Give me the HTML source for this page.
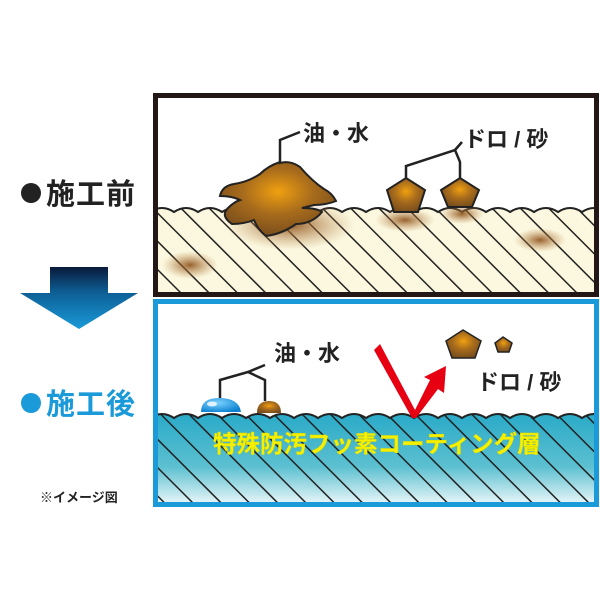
<!DOCTYPE html>
<html><head><meta charset="utf-8"><style>
html,body{margin:0;padding:0;background:#fff;}
svg{display:block;}
text{font-family:"Liberation Sans","Noto Sans CJK JP",sans-serif;font-weight:bold;}
</style></head><body>
<svg width="600" height="600" viewBox="0 0 600 600" xmlns="http://www.w3.org/2000/svg">
<defs>
<pattern id="h1" patternUnits="userSpaceOnUse" width="20" height="20" patternTransform="rotate(-45)">
<rect width="20" height="20" fill="#fbf8df"/><line x1="0" y1="0" x2="0" y2="20" stroke="#222" stroke-width="3"/>
</pattern>
<linearGradient id="blue" x1="0" y1="0" x2="0" y2="1">
<stop offset="0" stop-color="#2aaac8"/><stop offset="0.55" stop-color="#5cc0d0"/><stop offset="1" stop-color="#ffffff"/>
</linearGradient>
<pattern id="h2" patternUnits="userSpaceOnUse" width="20" height="20" patternTransform="rotate(-45)">
<line x1="0" y1="0" x2="0" y2="20" stroke="#222" stroke-width="3"/>
</pattern>
<linearGradient id="arr" x1="0" y1="0" x2="0" y2="1">
<stop offset="0" stop-color="#0a1a3a"/><stop offset="0.4" stop-color="#0d5e94"/><stop offset="1" stop-color="#1a9ad8"/>
</linearGradient>
<radialGradient id="blob" cx="0.5" cy="0.4" r="0.6">
<stop offset="0" stop-color="#f0a010"/><stop offset="0.5" stop-color="#a86c1c"/><stop offset="1" stop-color="#7a4e1c"/>
</radialGradient>
<radialGradient id="stain">
<stop offset="0" stop-color="#8a5018" stop-opacity="0.9"/><stop offset="1" stop-color="#c08a50" stop-opacity="0"/>
</radialGradient>
<radialGradient id="drop" cx="0.4" cy="0.35" r="0.7">
<stop offset="0" stop-color="#7fd4ff"/><stop offset="1" stop-color="#0a80d0"/>
</radialGradient>
<clipPath id="c1"><rect x="158" y="98" width="436" height="194"/></clipPath>
<clipPath id="c2"><rect x="158" y="304" width="436" height="198"/></clipPath>
</defs>

<!-- left labels -->
<circle cx="31" cy="193" r="10" fill="#222"/>
<text x="46" y="204" font-size="29" fill="#222" letter-spacing="1">施工前</text>
<polygon points="50,267 108,267 108,293 138,293 79,329 20,293 50,293" fill="url(#arr)"/>
<circle cx="31" cy="403" r="10" fill="#1a9ad8"/>
<text x="46" y="414" font-size="29" fill="#1a9ad8" letter-spacing="1">施工後</text>
<text x="40" y="502" font-size="13" fill="#222" font-weight="normal">※イメージ図</text>

<!-- top box -->
<rect x="155.5" y="95.5" width="441" height="199" fill="#fff" stroke="#231815" stroke-width="5"/>
<g clip-path="url(#c1)">
<path d="M150,212 q12,-8 24,0 q12,-8 24,0 q12,-8 24,0 q12,-8 24,0 q12,-8 24,0 q12,-8 24,0 q12,-8 24,0 q12,-8 24,0 q12,-8 24,0 q12,-8 24,0 q12,-8 24,0 q12,-8 24,0 q12,-8 24,0 q12,-8 24,0 q12,-8 24,0 q12,-8 24,0 q12,-8 24,0 q12,-8 24,0 q12,-8 24,0 L606,300 L150,300 Z" fill="url(#h1)" stroke="#222" stroke-width="2"/>
<ellipse cx="290" cy="225" rx="65" ry="25" fill="url(#stain)"/>
<ellipse cx="405" cy="220" rx="30" ry="12" fill="url(#stain)"/>
<ellipse cx="462" cy="214" rx="22" ry="10" fill="url(#stain)"/>
<ellipse cx="540" cy="240" rx="26" ry="12" fill="url(#stain)"/>
<ellipse cx="190" cy="265" rx="28" ry="14" fill="url(#stain)"/>
</g>
<path d="M280,163 q10,-3 20,4 q12,14 24,22 q8,4 12,12 q-10,4 -22,4 l-12,3 q15,0 20,4 q-10,12 -26,12 q-14,10 -30,12 q-8,-6 -12,-16 q-10,4 -22,4 q-12,-8 -4,-16 q6,-6 12,-8 q-8,-4 -20,-4 q2,-10 14,-12 q14,-2 26,-10 q8,-8 20,-12 Z" fill="url(#blob)" stroke="#222" stroke-width="2"/>
<polyline points="280,163 280,140 300,132" fill="none" stroke="#222" stroke-width="2.5"/>
<text x="303" y="141" font-size="22" fill="#222">油・水</text>
<polygon points="406,178 425,190 418,212 394,212 387,190" fill="url(#blob)" stroke="#222" stroke-width="2"/>
<polygon points="460,178 479,190 472,207 448,207 441,190" fill="url(#blob)" stroke="#222" stroke-width="2"/>
<polyline points="406,178 406,166 455,150 460,162 460,178" fill="none" stroke="#222" stroke-width="2.5"/>
<line x1="455" y1="150" x2="462" y2="142" stroke="#222" stroke-width="2.5"/>
<text x="464" y="147" font-size="22" fill="#222">ドロ / 砂</text>

<!-- bottom box -->
<rect x="155.5" y="301.5" width="441" height="203" fill="#fff" stroke="#1a9ad8" stroke-width="5"/>
<g clip-path="url(#c2)">
<path d="M150,418 q12,-8 24,0 q12,-8 24,0 q12,-8 24,0 q12,-8 24,0 q12,-8 24,0 q12,-8 24,0 q12,-8 24,0 q12,-8 24,0 q12,-8 24,0 q12,-8 24,0 q12,-8 24,0 q12,-8 24,0 q12,-8 24,0 q12,-8 24,0 q12,-8 24,0 q12,-8 24,0 q12,-8 24,0 q12,-8 24,0 q12,-8 24,0 L606,510 L150,510 Z" fill="url(#blue)" stroke="#222" stroke-width="2"/>
<path d="M150,418 q12,-8 24,0 q12,-8 24,0 q12,-8 24,0 q12,-8 24,0 q12,-8 24,0 q12,-8 24,0 q12,-8 24,0 q12,-8 24,0 q12,-8 24,0 q12,-8 24,0 q12,-8 24,0 q12,-8 24,0 q12,-8 24,0 q12,-8 24,0 q12,-8 24,0 q12,-8 24,0 q12,-8 24,0 q12,-8 24,0 q12,-8 24,0 L606,510 L150,510 Z" fill="url(#h2)"/>
</g>
<text x="213" y="452" font-size="23.5" fill="#f5f000" stroke="#e0d800" stroke-width="0.4">特殊防汚フッ素コーティング層</text>
<path d="M201,412 q0,-14 18,-14 q20,0 22,14 Z" fill="url(#drop)"/>
<ellipse cx="212" cy="404" rx="5" ry="2.5" fill="#fff" opacity="0.8"/>
<path d="M257,413 q0,-12 12,-12 q12,0 12,12 Z" fill="url(#blob)"/>
<polyline points="220,398 220,380 248,372 265,380 265,401" fill="none" stroke="#222" stroke-width="2.5"/>
<line x1="248" y1="372" x2="265" y2="365" stroke="#222" stroke-width="2.5"/>
<text x="274" y="361" font-size="22" fill="#222">油・水</text>
<polygon points="374,350 380,344 415,410 430,380 424,377 446,366 444,393 438,389 416,418 412,418" fill="#e60012"/>
<polygon points="463,330 481,341 475,358 452,358 446,341" fill="url(#blob)" stroke="#222" stroke-width="1.5"/>
<polygon points="503,337 512,343 509,352 498,352 495,343" fill="url(#blob)" stroke="#222" stroke-width="1.5"/>
<text x="477" y="390" font-size="22" fill="#222">ドロ / 砂</text>
</svg>
</body></html>
